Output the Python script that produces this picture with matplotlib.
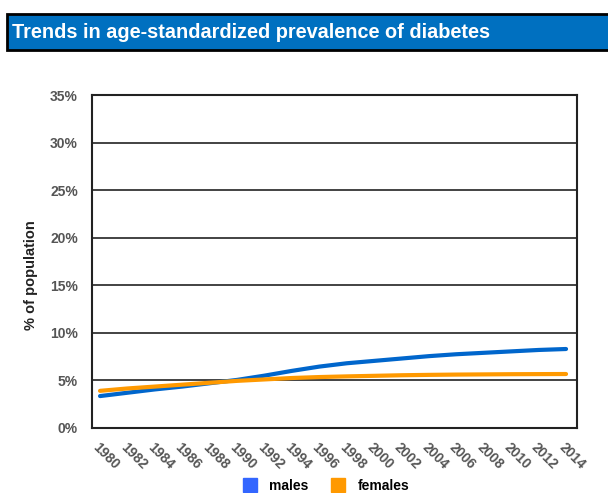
import matplotlib
matplotlib.use("Agg")
import matplotlib.pyplot as plt
from matplotlib import font_manager
from matplotlib.patches import Rectangle
from matplotlib.lines import Line2D

years = list(range(1980, 2015, 2))
males = [3.35, 3.7, 4.05, 4.35, 4.7, 5.05, 5.5, 6.0, 6.45, 6.8, 7.05, 7.3,
         7.55, 7.75, 7.9, 8.05, 8.2, 8.3]
females = [3.9, 4.15, 4.35, 4.55, 4.75, 4.95, 5.1, 5.25, 5.35, 5.42, 5.48,
           5.54, 5.58, 5.61, 5.63, 5.65, 5.66, 5.67]
yticks = [0, 5, 10, 15, 20, 25, 30, 35]

plt.rcParams['font.family'] = ['Liberation Sans', 'DejaVu Sans']

# narrow face for the title if it is there
names = {f.name for f in font_manager.fontManager.ttflist}
if "Liberation Sans Narrow" in names:
    title_font, title_size = "Liberation Sans Narrow", 17
else:
    title_font, title_size = "Liberation Sans", 14.3

fig = plt.figure(figsize=(6.08, 4.93), dpi=100)

# title bar
fig.patches.append(Rectangle((0.012, 0.899), 1.0, 0.073, transform=fig.transFigure,
                             facecolor="#0070C0", edgecolor="black", linewidth=2))
fig.text(0.02, 0.935, "Trends in age-standardized prevalence of diabetes",
         color="white", fontsize=title_size, fontweight="bold", family=title_font,
         va="center", ha="left")

ax = fig.add_axes([0.151, 0.132, 0.798, 0.675])
ax.plot(years, males, color="#0066CC", lw=3, solid_capstyle="round")
ax.plot(years, females, color="#FF9900", lw=3, solid_capstyle="round")

ax.set_ylim(0, 35)
ax.set_xlim(1979.4, 2014.8)
ax.set_yticks(yticks)
ax.set_yticklabels([f"{v}%" for v in yticks], fontsize=10, fontweight="bold", color="#555555")
ax.set_xticks(years)
ax.set_xticklabels([str(y) for y in years], rotation=-45, ha="left", va="top",
                   rotation_mode="anchor", fontsize=10, fontweight="bold", color="#555555")
ax.tick_params(axis="y", length=0, pad=10)
ax.tick_params(axis="x", length=0, pad=9)
ax.yaxis.grid(True, color="#222222", lw=1.2)
ax.set_axisbelow(True)
for s in ax.spines.values():
    s.set_linewidth(1.5)
    s.set_color("#222222")
ax.set_ylabel("% of population", fontsize=10.5, fontweight="bold", color="#222222")
ax.yaxis.set_label_coords(-0.11, 0.46)

handles = [Line2D([], [], marker="s", ls="", color="#3366FF", markersize=10),
           Line2D([], [], marker="s", ls="", color="#FF9900", markersize=10)]
fig.legend(handles, ["males", "females"], loc="lower center", bbox_to_anchor=(0.535, -0.025),
           ncol=2, frameon=False, prop={"weight": "bold", "size": 10}, handletextpad=0.8,
           columnspacing=1.5, handlelength=1.2)

fig.savefig("out.png", dpi=100)
